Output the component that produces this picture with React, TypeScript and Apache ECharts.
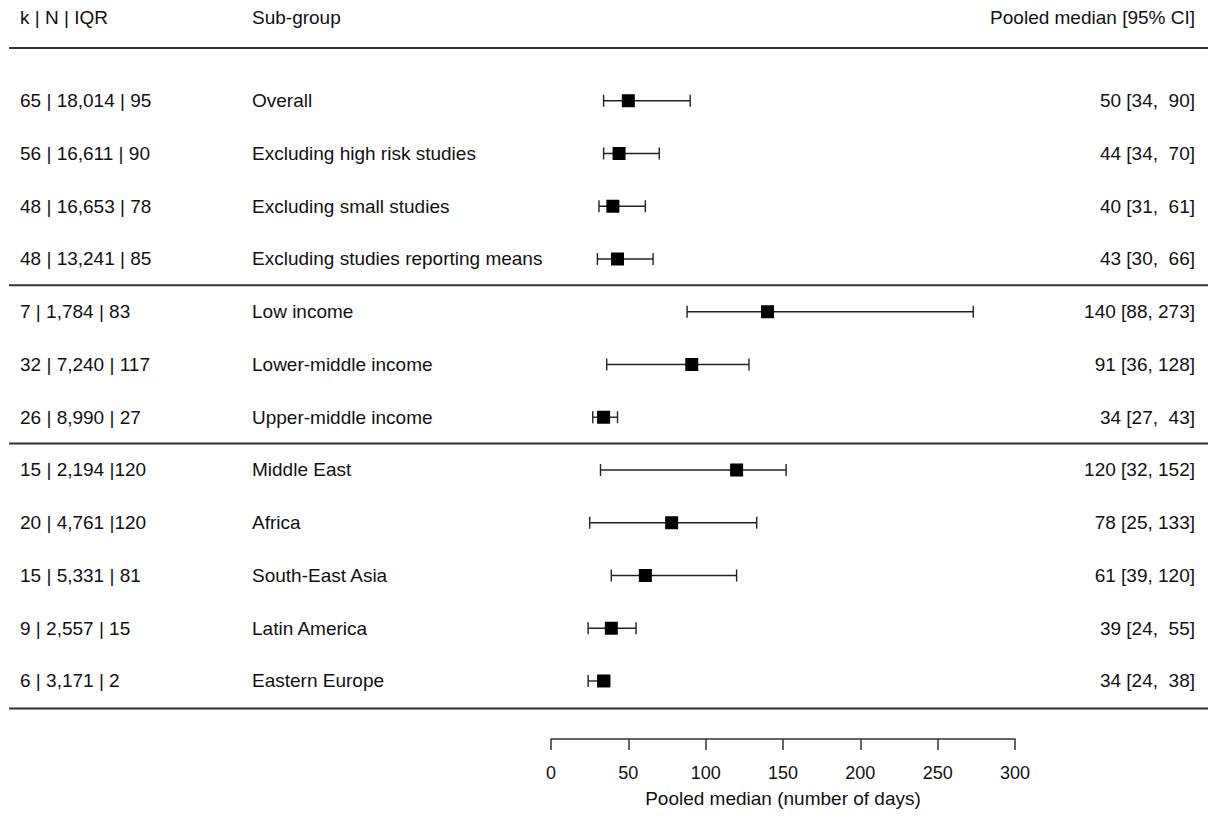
import React, { useEffect, useRef } from "react";
import * as echarts from "echarts";

const studyCounts = [
  "65 | 18,014 | 95",
  "56 | 16,611 | 90",
  "48 | 16,653 | 78",
  "48 | 13,241 | 85",
  "7 | 1,784 | 83",
  "32 | 7,240 | 117",
  "26 | 8,990 | 27",
  "15 | 2,194 |120",
  "20 | 4,761 |120",
  "15 | 5,331 | 81",
  "9 | 2,557 | 15",
  "6 | 3,171 | 2",
];
const subGroups = [
  "Overall",
  "Excluding high risk studies",
  "Excluding small studies",
  "Excluding studies reporting means",
  "Low income",
  "Lower-middle income",
  "Upper-middle income",
  "Middle East",
  "Africa",
  "South-East Asia",
  "Latin America",
  "Eastern Europe",
];
const medians = [50, 44, 40, 43, 140, 91, 34, 120, 78, 61, 39, 34];
const lowerCI = [34, 34, 31, 30, 88, 36, 27, 32, 25, 39, 24, 24];
const upperCI = [90, 70, 61, 66, 273, 128, 43, 152, 133, 120, 55, 38];
const separatorRows = [-1, 3.5, 6.5, 11.52];
const xTicks = [0, 50, 100, 150, 200, 250, 300];
const headers = ["k | N | IQR", "Sub-group", "Pooled median [95% CI]"];
const xAxisTitle = "Pooled median (number of days)";

const FONT = '"Liberation Sans", Arial, Helvetica, sans-serif';
const FS = 19;
const TXT = "#111";

function pad3(n: number) {
  const s = String(n);
  return s.length < 3 ? " " + s : s;
}

export default function App() {
  const ref = useRef<HTMLDivElement>(null);
  useEffect(() => {
    const chart = echarts.init(ref.current!, null, { renderer: "svg" });
    const rows = medians.map((m, i) => [m, lowerCI[i], upperCI[i], i]);
    const option: any = {
      animation: false,
      backgroundColor: "#fff",
      grid: { left: 551, right: 193, top: 48, bottom: 82 },
      xAxis: {
        type: "value",
        min: 0,
        max: 300,
        interval: 50,
        position: "bottom",
        axisLine: { show: true, onZero: false, lineStyle: { color: "#333", width: 1.5 } },
        axisTick: { show: true, length: 11, lineStyle: { color: "#333", width: 1.5 } },
        splitLine: { show: false },
        axisLabel: {
          margin: 25,
          color: TXT,
          fontSize: 18,
          fontFamily: FONT,
          formatter: (v: number) => (xTicks.includes(v) ? String(v) : ""),
        },
        name: xAxisTitle,
        nameLocation: "middle",
        nameGap: 50,
        nameTextStyle: { color: TXT, fontSize: FS, fontFamily: FONT, verticalAlign: "top" },
      },
      yAxis: {
        type: "value",
        inverse: true,
        min: -1,
        max: 12.1,
        show: false,
      },
      graphic: [
        { type: "text", left: 20, top: 8, style: { text: headers[0], fontSize: FS, fontFamily: FONT, fill: TXT } },
        { type: "text", left: 252, top: 8, style: { text: headers[1], fontSize: FS, fontFamily: FONT, fill: TXT } },
        { type: "text", right: 13, top: 8, style: { text: headers[2], fontSize: FS, fontFamily: FONT, fill: TXT } },
      ],
      series: [
        {
          type: "custom",
          clip: false,
          silent: true,
          data: separatorRows.map((r) => [0, r]),
          renderItem: (params: any, api: any) => {
            const y = api.coord([0, api.value(1)])[1];
            return {
              type: "line",
              shape: { x1: 9, y1: y, x2: 1208, y2: y },
              style: { stroke: "#333", lineWidth: 2 },
            };
          },
        },
        {
          type: "custom",
          clip: false,
          silent: true,
          data: rows.map((r) => [0, r[3]]),
          renderItem: (params: any, api: any) => {
            const i = params.dataIndex;
            const y = api.coord([0, api.value(1)])[1];
            const base = { fontSize: FS, fontFamily: FONT, fill: TXT, verticalAlign: "middle" };
            return {
              type: "group",
              children: [
                { type: "text", style: { ...base, text: studyCounts[i], x: 20, y, align: "left" } },
                { type: "text", style: { ...base, text: subGroups[i], x: 252, y, align: "left" } },
                {
                  type: "text",
                  style: {
                    ...base,
                    text: `${medians[i]} [${lowerCI[i]}, ${pad3(upperCI[i])}]`,
                    x: 1195,
                    y,
                    align: "right",
                  },
                },
              ],
            };
          },
        },
        {
          type: "custom",
          clip: false,
          silent: true,
          data: rows,
          renderItem: (params: any, api: any) => {
            const row = api.value(3);
            const pm = api.coord([api.value(0), row]);
            const pl = api.coord([api.value(1), row]);
            const pu = api.coord([api.value(2), row]);
            const y = pm[1];
            const cap = 6;
            const sq = 13;
            const st = { stroke: "#222", lineWidth: 1.4 };
            return {
              type: "group",
              children: [
                { type: "line", shape: { x1: pl[0], y1: y, x2: pu[0], y2: y }, style: st },
                { type: "line", shape: { x1: pl[0], y1: y - cap, x2: pl[0], y2: y + cap }, style: st },
                { type: "line", shape: { x1: pu[0], y1: y - cap, x2: pu[0], y2: y + cap }, style: st },
                {
                  type: "rect",
                  shape: { x: pm[0] - sq / 2, y: y - sq / 2, width: sq, height: sq },
                  style: { fill: "#000" },
                },
              ],
            };
          },
        },
      ],
    };
    chart.setOption(option);
    return () => chart.dispose();
  }, []);
  return (
    <div
      ref={ref}
      style={{ position: "absolute", left: 0, top: 0, width: 1208, height: 821, background: "#fff" }}
    />
  );
}
